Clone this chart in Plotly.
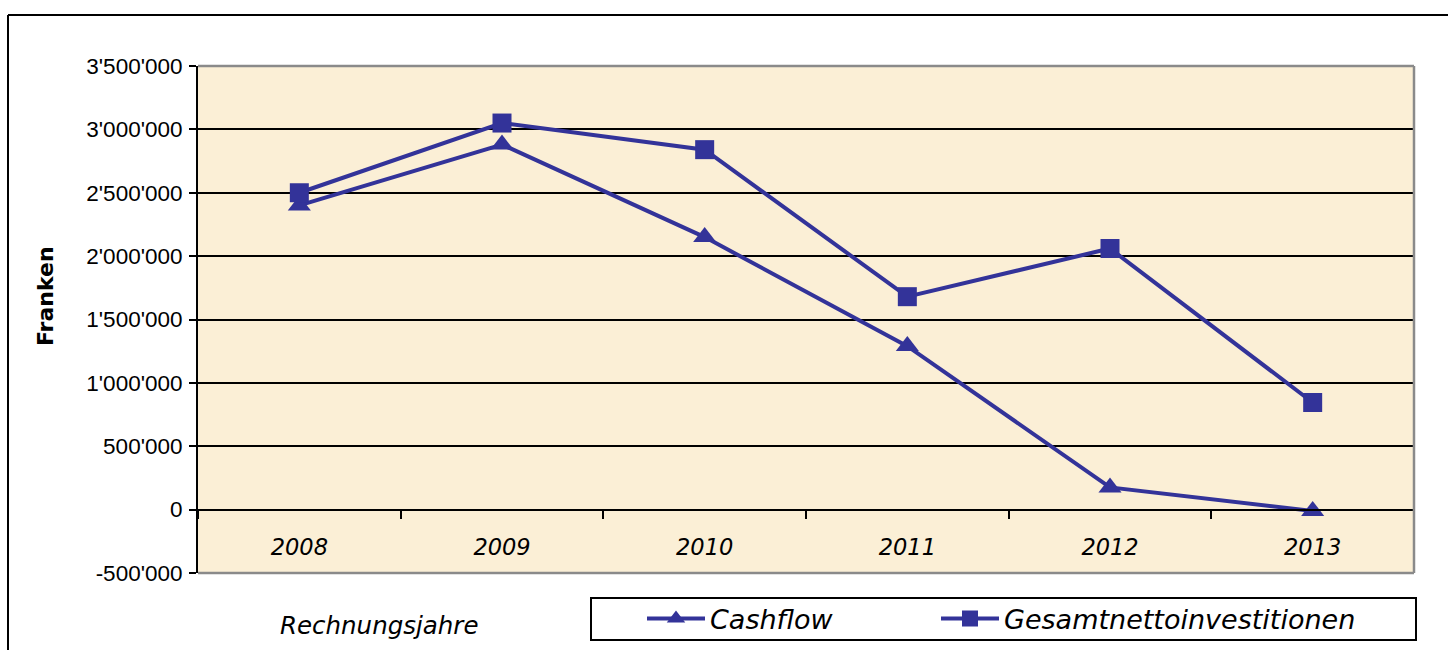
import plotly.graph_objects as go

years = ["2008", "2009", "2010", "2011", "2012", "2013"]
cashflow = [2400000, 2880000, 2150000, 1290000, 175000, -10000]
gesamt = [2500000, 3050000, 2840000, 1680000, 2060000, 845000]
y_ticks = [-500000, 0, 500000, 1000000, 1500000, 2000000, 2500000, 3000000, 3500000]
y_ticktext = [f"{v:,}".replace(",", "'") for v in y_ticks]

W, H = 1448, 650
L, R, T, B = 198, 1414, 66, 573  # plot area pixel box


def px(x):
    return (x - L) / (R - L)


def py(y):
    return (B - y) / (B - T)


COL = "#333399"
LEG_FONT = dict(family="DejaVu Sans", size=27, color="black", style="italic")

fig = go.Figure()
fig.add_trace(go.Scatter(
    x=years, y=cashflow, name="Cashflow", mode="lines+markers",
    line=dict(color=COL, width=4),
    marker=dict(symbol="triangle-up", size=20, color=COL),
    legend="legend",
))
fig.add_trace(go.Scatter(
    x=years, y=gesamt, name="Gesamtnettoinvestitionen", mode="lines+markers",
    line=dict(color=COL, width=4),
    marker=dict(symbol="square", size=19, color=COL),
    legend="legend2",
))

shapes = []
# plot area border (gray) top / right / bottom
for (x0, y0, x1, y1) in [(0, 1, 1, 1), (1, 0, 1, 1), (0, 0, 1, 0)]:
    shapes.append(dict(type="line", xref="paper", yref="paper", x0=x0, y0=y0, x1=x1, y1=y1,
                       line=dict(color="#8a8a8a", width=2.5), layer="above"))
# outer chart border (top and left)
shapes.append(dict(type="line", xref="paper", yref="paper", x0=px(8), y0=py(15), x1=px(1448), y1=py(15),
                   line=dict(color="black", width=2)))
shapes.append(dict(type="line", xref="paper", yref="paper", x0=px(8), y0=py(15), x1=px(8), y1=py(650),
                   line=dict(color="black", width=2)))
# legend box
shapes.append(dict(type="rect", xref="paper", yref="paper", x0=px(591), y0=py(640), x1=px(1416), y1=py(598),
                   line=dict(color="black", width=2)))

leg_common = dict(orientation="h", yanchor="middle", xanchor="left", font=LEG_FONT,
                  bgcolor="rgba(0,0,0,0)", borderwidth=0, itemwidth=58)

fig.update_layout(
    width=W, height=H,
    margin=dict(l=L, r=W - R, t=T, b=H - B, pad=0, autoexpand=False),
    paper_bgcolor="white",
    plot_bgcolor="#FBEFD6",
    showlegend=True,
    legend=dict(x=px(642), y=py(619), **leg_common),
    legend2=dict(x=px(936), y=py(619), **leg_common),
    xaxis=dict(
        type="category", range=[-0.5, 5.5],
        anchor="free", position=0.125,
        showline=True, linecolor="black", linewidth=2,
        ticks="outside", tickson="boundaries", ticklen=8, tickwidth=2, tickcolor="black",
        showgrid=False, zeroline=False,
        tickfont=dict(family="DejaVu Sans", size=22.5, color="black", style="italic"),
        ticklabelstandoff=17,
    ),
    yaxis=dict(
        range=[-500000, 3500000], tickvals=y_ticks, ticktext=y_ticktext,
        showline=True, linecolor="black", linewidth=2,
        ticks="outside", ticklen=7, tickwidth=2, tickcolor="black",
        showgrid=True, gridcolor="black", gridwidth=1.5, zeroline=False,
        tickfont=dict(family="Liberation Sans", size=22.5, color="black"),
        ticklabelstandoff=2,
    ),
    shapes=shapes,
    annotations=[
        dict(text="<b>Franken</b>", xref="paper", yref="paper", x=px(45), y=py(296),
             xanchor="center", yanchor="middle",
             textangle=-90, showarrow=False,
             font=dict(family="DejaVu Sans", size=22, color="black")),
        dict(text="Rechnungsjahre", xref="paper", yref="paper", x=px(379), y=py(625),
             xanchor="center", yanchor="middle",
             showarrow=False,
             font=dict(family="DejaVu Sans", size=24.5, color="black", style="italic")),
    ],
)

fig.write_html("out.html", config={"displayModeBar": False},
               post_script="document.body.style.margin='0px';")
